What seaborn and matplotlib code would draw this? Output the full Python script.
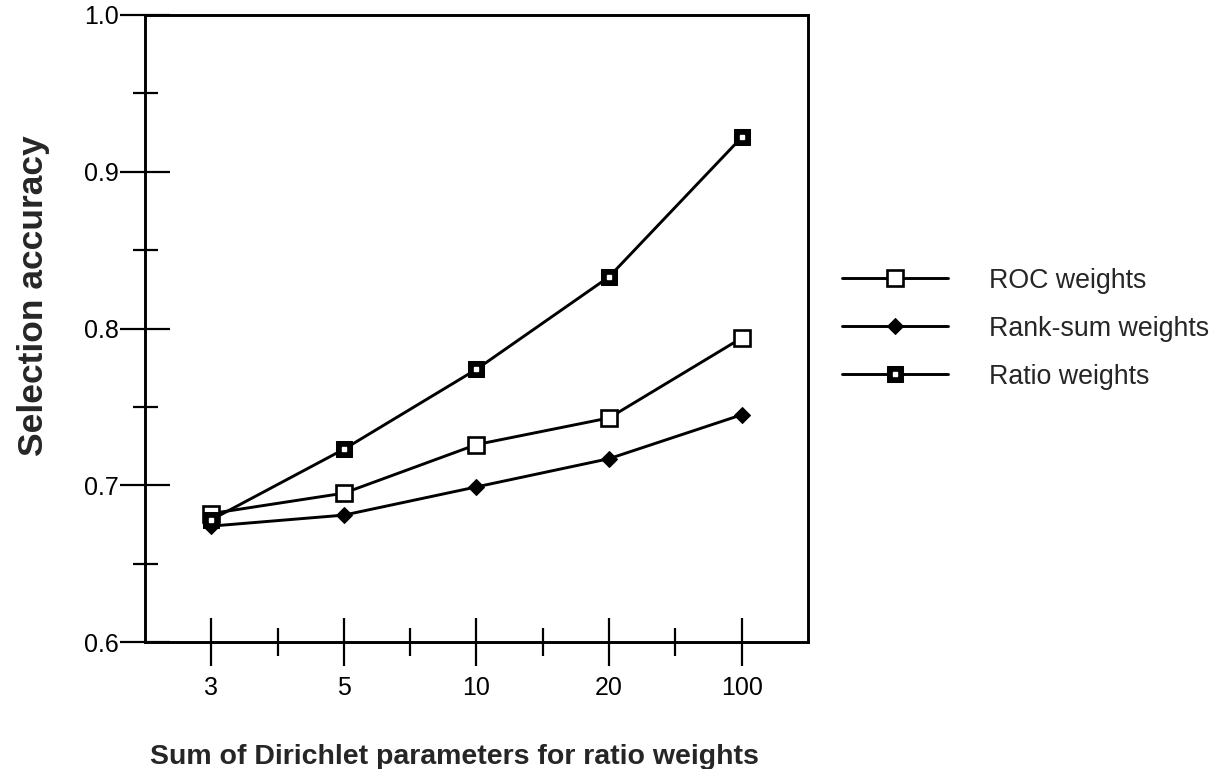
import numpy as np
import pandas as pd
import matplotlib
matplotlib.use("Agg")
import matplotlib.pyplot as plt
from matplotlib.legend_handler import HandlerTuple
from matplotlib.ticker import MultipleLocator, FixedLocator, FormatStrFormatter
import seaborn as sns

# Data
dirichlet_sums = ["3", "5", "10", "20", "100"]
roc_weights = [0.682, 0.695, 0.726, 0.743, 0.794]
rank_sum_weights = [0.674, 0.681, 0.699, 0.717, 0.745]
ratio_weights = [0.678, 0.723, 0.774, 0.833, 0.922]

sns.set_style("white")
plt.rcParams["font.family"] = ["Liberation Sans", "DejaVu Sans"]

pos = np.arange(len(dirichlet_sums))
df = pd.DataFrame({"pos": pos, "roc": roc_weights,
                   "rank": rank_sum_weights, "ratio": ratio_weights})

fig = plt.figure(figsize=(12.28, 7.69), dpi=100)
ax = fig.add_axes([0.118, 0.165, 0.540, 0.8155])

lw = 2.1
sns.lineplot(data=df, x="pos", y="roc", ax=ax, color="black", lw=lw,
             marker="s", markersize=11, markerfacecolor="white",
             markeredgecolor="black", markeredgewidth=1.9, zorder=3)
sns.lineplot(data=df, x="pos", y="rank", ax=ax, color="black", lw=lw,
             marker="D", markersize=8, markerfacecolor="black",
             markeredgecolor="black", zorder=3)
sns.lineplot(data=df, x="pos", y="ratio", ax=ax, color="black", lw=lw,
             marker="s", markersize=11, markerfacecolor="black",
             markeredgecolor="black", zorder=4)
ax.plot(pos, ratio_weights, ls="none", marker="s", markersize=3,
        markerfacecolor="white", markeredgecolor="white", zorder=5)

ax.set_xlim(-0.5, len(dirichlet_sums) - 0.5)
ax.set_ylim(0.6, 1.0)
ax.xaxis.set_major_locator(FixedLocator(pos))
ax.set_xticklabels(dirichlet_sums)
ax.xaxis.set_minor_locator(FixedLocator(pos[:-1] + 0.5))
ax.yaxis.set_major_locator(MultipleLocator(0.1))
ax.yaxis.set_minor_locator(MultipleLocator(0.05))
ax.yaxis.set_major_formatter(FormatStrFormatter("%.1f"))

for s in ax.spines.values():
    s.set_linewidth(2.1)
    s.set_color("black")

ax.tick_params(axis="both", which="both", direction="inout", width=1.6,
               color="black", labelsize=18, labelcolor="black")
ax.tick_params(axis="y", which="major", length=36, pad=1, left=True)
ax.tick_params(axis="y", which="minor", length=18, left=True)
ax.tick_params(axis="x", which="major", length=35, pad=7, bottom=True)
ax.tick_params(axis="x", which="minor", length=20, bottom=True)
ax.set_xlabel("")
ax.set_ylabel("")

fig.text(0.027, 0.616, "Selection accuracy", rotation=90, ha="center",
         va="center", fontsize=25.5, fontweight="bold")
fig.text(0.370, 0.016, "Sum of Dirichlet parameters for ratio weights",
         ha="center", va="center", fontsize=20.5, fontweight="bold")

# legend handles
lines = ax.get_lines()
h_roc, h_rank, h_ratio, h_dot = lines[0], lines[1], lines[2], lines[3]
fig.legend([h_roc, h_rank, (h_ratio, h_dot)],
           ["ROC weights", "Rank-sum weights", "Ratio weights"],
           handler_map={tuple: HandlerTuple(ndivide=1, pad=0)},
           loc="upper left", bbox_to_anchor=(0.6857, 0.652),
           frameon=False, fontsize=19.3, handlelength=3.95,
           handletextpad=1.55, labelspacing=0.82, borderpad=0,
           borderaxespad=0)

fig.savefig("out.png", dpi=100, facecolor="white")
